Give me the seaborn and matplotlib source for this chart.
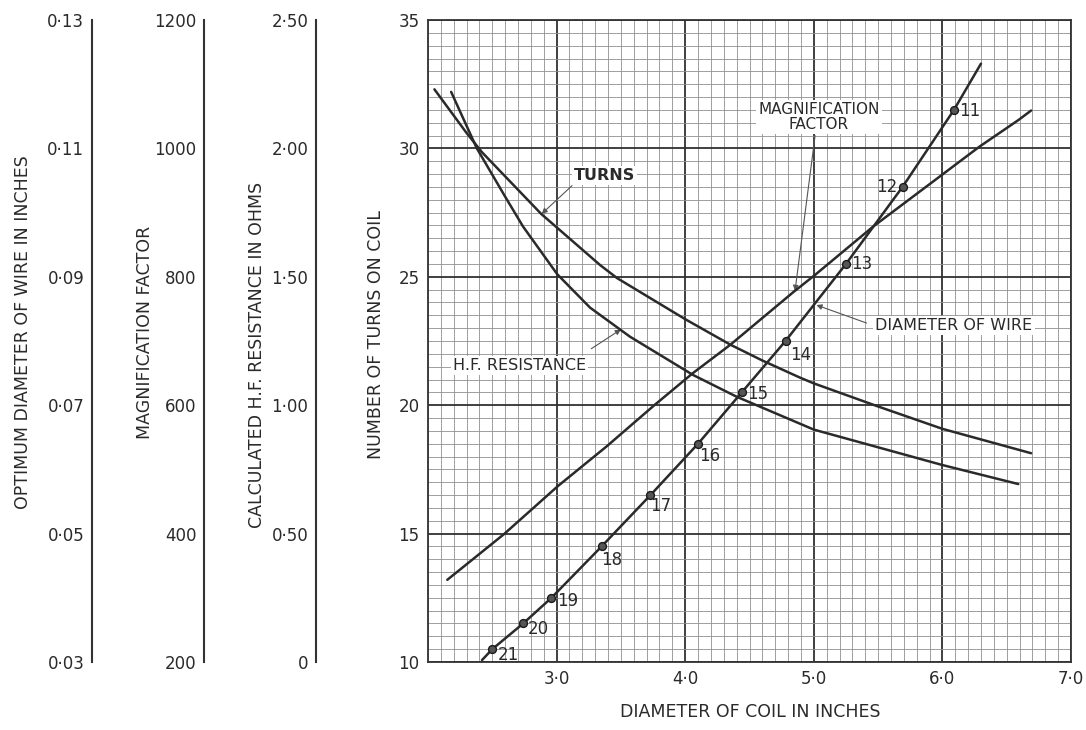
import matplotlib
matplotlib.use("Agg")
import matplotlib.pyplot as plt
import seaborn as sns
from matplotlib.ticker import MultipleLocator

# number of turns against coil diameter (inches)
turns_x = [2.05, 2.30, 2.42, 2.88, 3.34, 3.47, 4.00, 4.35, 4.60, 4.89, 5.00, 5.50, 6.00, 6.69]
turns_y = [32.3, 30.6, 29.85, 27.45, 25.45, 24.95, 23.35, 22.36, 21.74, 21.08, 20.85, 19.95, 19.08, 18.13]

# calculated H.F. resistance (ohms)
res_x = [2.18, 2.38, 2.60, 2.74, 3.005, 3.26, 3.57, 4.06, 4.40, 5.00, 6.00, 6.59]
res_r = [2.22, 2.00, 1.812, 1.695, 1.51, 1.38, 1.267, 1.118, 1.033, 0.905, 0.767, 0.693]

# magnification factor
mag_x = [2.15, 2.59, 3.01, 3.39, 3.76, 4.06, 4.35, 4.84, 5.01, 5.46, 6.29, 6.59, 6.69]
mag_q = [328, 399, 474, 536, 600, 650, 694, 776, 803, 878, 1003, 1044, 1059]

# optimum wire diameter (inches), curve and S.W.G. points
wire_x = [2.42, 2.50, 2.74, 2.96, 3.35, 3.73, 4.10, 4.44, 4.78, 5.25, 5.69, 6.09, 6.30]
wire_d = [0.0303, 0.032, 0.036, 0.040, 0.048, 0.056, 0.064, 0.072, 0.080, 0.092, 0.104, 0.116, 0.1232]
gauge = [21, 20, 19, 18, 17, 16, 15, 14, 13, 12, 11]
gauge_x = [2.50, 2.74, 2.96, 3.35, 3.73, 4.10, 4.44, 4.78, 5.25, 5.69, 6.09]
gauge_d = [0.032, 0.036, 0.040, 0.048, 0.056, 0.064, 0.072, 0.080, 0.092, 0.104, 0.116]

coil_ticks = [3, 4, 5, 6, 7]
coil_labels = ["3·0", "4·0", "5·0", "6·0", "7·0"]
turn_ticks = [10, 15, 20, 25, 30, 35]
wire_ticks = [0.03, 0.05, 0.07, 0.09, 0.11, 0.13]
wire_labels = ["0·03", "0·05", "0·07", "0·09", "0·11", "0·13"]
mag_ticks = [200, 400, 600, 800, 1000, 1200]
res_ticks = [0, 0.5, 1.0, 1.5, 2.0, 2.5]
res_labels = ["0", "0·50", "1·00", "1·50", "2·00", "2·50"]

sns.set_style("white")
plt.rcParams['font.family'] = ['DejaVu Sans']
ink = '#2a2a2a'

W, Hh = 1086, 730
fig = plt.figure(figsize=(W / 100, Hh / 100), dpi=100)
bot, hgt = 68 / Hh, 642 / Hh

ax = fig.add_axes([428 / W, bot, 643 / W, hgt])
ax.set_xlim(2, 7)
ax.set_ylim(10, 35)
ax.set_xticks(coil_ticks)
ax.set_xticklabels(coil_labels)
ax.set_yticks(turn_ticks)
ax.xaxis.set_minor_locator(MultipleLocator(0.1))
ax.yaxis.set_minor_locator(MultipleLocator(0.5))
ax.grid(which='major', color='#303030', lw=1.3)
ax.grid(which='minor', color='#8f8f8f', lw=0.6)
ax.set_axisbelow(True)
ax.tick_params(which='both', length=0, labelsize=12, colors=ink, pad=6)
for s in ax.spines.values():
    s.set_color('#333333')
    s.set_linewidth(1.3)


def overlay(lo, hi):
    t = ax.twinx()
    t.set_ylim(lo, hi)
    t.axis('off')
    return t


ax_res = overlay(0, 2.5)
ax_mag = overlay(200, 1200)
ax_wire = overlay(0.03, 0.13)

lw = 1.8
sns.lineplot(x=turns_x, y=turns_y, ax=ax, color=ink, lw=lw, sort=False)
sns.lineplot(x=res_x, y=res_r, ax=ax_res, color=ink, lw=lw, sort=False)
sns.lineplot(x=mag_x, y=mag_q, ax=ax_mag, color=ink, lw=lw, sort=False)
sns.lineplot(x=wire_x, y=wire_d, ax=ax_wire, color=ink, lw=lw, sort=False)
sns.scatterplot(x=gauge_x, y=gauge_d, ax=ax_wire, s=32, color='#555555',
                edgecolor='#1a1a1a', linewidth=1.0, zorder=5)

# gauge numbers beside the dots (offset in points)
offs = {11: (4, -1, 'left'), 12: (-4, 0, 'right'), 13: (4, 0, 'left'),
        14: (3, -10, 'left'), 15: (4, -1, 'left'), 16: (1, -9, 'left'),
        17: (0, -8, 'left'), 18: (0, -10, 'left'), 19: (4, -2, 'left'),
        20: (3, -4, 'left'), 21: (4, -4, 'left')}
for g, gx, gd in zip(gauge, gauge_x, gauge_d):
    dx, dy, ha = offs[g]
    ax_wire.annotate(str(g), (gx, gd), xytext=(dx, dy), textcoords='offset points',
                     ha=ha, va='center', fontsize=12, color=ink)

box = dict(facecolor='white', edgecolor='none', pad=1.5)
arr = dict(arrowstyle='-|>', lw=0.8, color='#555555', mutation_scale=8, shrinkA=0, shrinkB=0)

ax.text(3.135, 28.96, "TURNS", fontsize=11.5, fontweight='bold', color=ink,
        ha='left', va='center', bbox=box)
ax.annotate("", xy=(2.884, 27.45), xytext=(3.12, 28.55), arrowprops=arr)

ax.text(5.04, 31.22, "MAGNIFICATION\nFACTOR", fontsize=11, color=ink,
        ha='center', va='center', linespacing=0.95, bbox=box)
ax.annotate("", xy=(4.854, 24.45), xytext=(5.01, 30.5), arrowprops=arr)

ax.text(6.09, 23.12, "DIAMETER OF WIRE", fontsize=11.5, color=ink,
        ha='center', va='center', bbox=box)
ax.annotate("", xy=(5.02, 23.9), xytext=(5.41, 23.2), arrowprops=arr)

ax.text(2.71, 21.53, "H.F. RESISTANCE", fontsize=11.5, color=ink,
        ha='center', va='center', bbox=box)
ax.annotate("", xy=(3.50, 22.95), xytext=(3.27, 22.2), arrowprops=arr)

# three separate scales on the left
side = [
    (92, 0.03, 0.13, wire_ticks, wire_labels, "OPTIMUM DIAMETER OF WIRE IN INCHES", 23, 332),
    (204, 200, 1200, mag_ticks, [str(v) for v in mag_ticks], "MAGNIFICATION FACTOR", 145, 332),
    (316, 0, 2.5, res_ticks, res_labels, "CALCULATED H.F. RESISTANCE IN OHMS", 257, 355),
]
for xpx, lo, hi, ticks, labels, title, lx, ly in side:
    a = fig.add_axes([xpx / W, bot, 0.002, hgt])
    a.set_ylim(lo, hi)
    a.set_yticks(ticks)
    a.set_yticklabels(labels)
    a.set_xticks([])
    a.patch.set_alpha(0)
    for s in ['top', 'right', 'bottom']:
        a.spines[s].set_visible(False)
    a.spines['left'].set_color('#333333')
    a.spines['left'].set_linewidth(1.5)
    a.tick_params(axis='y', direction='inout', length=9, width=1.2, pad=1,
                  labelsize=12, colors=ink)
    fig.text(lx / W, 1 - ly / Hh, title, rotation=90, ha='center', va='center',
             fontsize=12.5, color=ink)

fig.text(376 / W, 1 - 335 / Hh, "NUMBER OF TURNS ON COIL", rotation=90,
         ha='center', va='center', fontsize=12.5, color=ink)
fig.text(750 / W, 1 - 712 / Hh, "DIAMETER OF COIL IN INCHES",
         ha='center', va='center', fontsize=12.5, color=ink)

fig.savefig("out.png", dpi=100, facecolor='white')
